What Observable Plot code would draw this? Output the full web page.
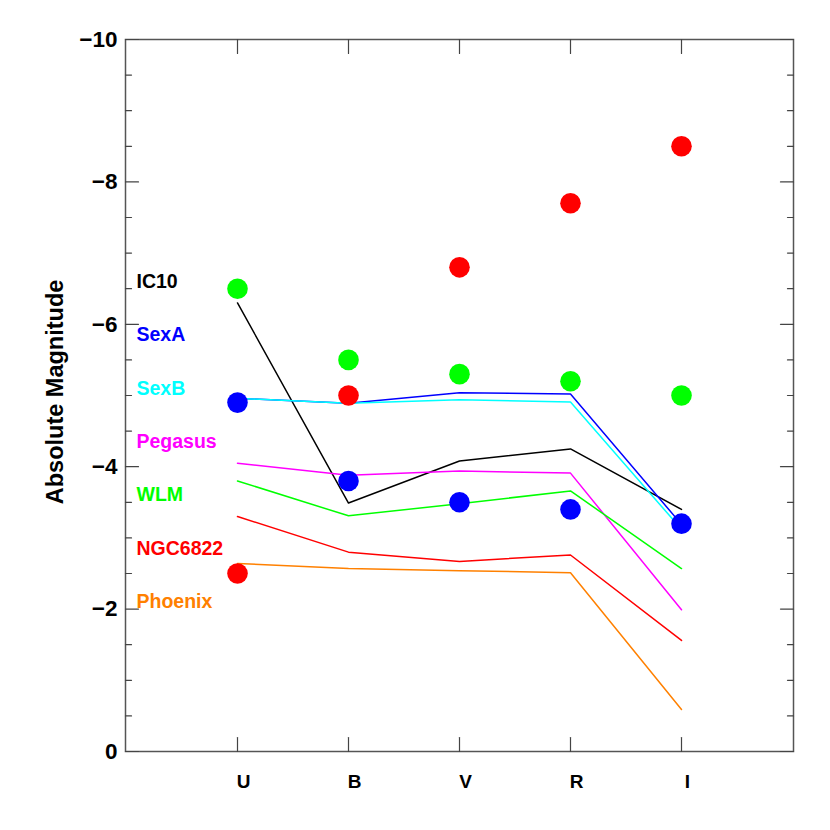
<!DOCTYPE html>
<html>
<head>
<meta charset="utf-8">
<script src="https://cdn.jsdelivr.net/npm/d3@7"></script>
<script src="https://cdn.jsdelivr.net/npm/@observablehq/plot@0.6"></script>
<style>
  html, body { margin: 0; padding: 0; background: #fff; }
</style>
</head>
<body>
<div id="chart"></div>
<script>
// ---- data ----
const filters = ["U", "B", "V", "R", "I"];
const galaxies = ["IC10", "SexA", "SexB", "Pegasus", "WLM", "NGC6822", "Phoenix"];
const galaxyColors = ["#000000", "#0000ff", "#00ffff", "#ff00ff", "#00ff00", "#ff0000", "#ff8000"];
const magIC10    = [-6.30, -3.49, -4.08, -4.25, -3.40];
const magSexA    = [-4.96, -4.89, -5.04, -5.02, -3.19];
const magSexB    = [-4.96, -4.89, -4.94, -4.91, -3.12];
const magPegasus = [-4.05, -3.88, -3.94, -3.91, -1.99];
const magWLM     = [-3.80, -3.31, -3.48, -3.66, -2.57];
const magNGC6822 = [-3.30, -2.80, -2.67, -2.76, -1.56];
const magPhoenix = [-2.64, -2.57, -2.54, -2.51, -0.59];
const dotsGreen = [-6.5, -5.5, -5.3, -5.2, -5.0];
const dotsRed   = [-2.5, -5.0, -6.8, -7.7, -8.5];
const dotsBlue  = [-4.9, -3.8, -3.5, -3.4, -3.2];
const yTickValues = [-10, -8, -6, -4, -2, 0];
const yLabel = "Absolute Magnitude";

// ---- tables built from the arrays ----
const seriesMags = [magIC10, magSexA, magSexB, magPegasus, magWLM, magNGC6822, magPhoenix];
const lineData = [];
galaxies.forEach((g, gi) => {
  filters.forEach((f, fi) => lineData.push({galaxy: g, color: galaxyColors[gi], filter: f, mag: seriesMags[gi][fi]}));
});
const dotSets = [["#00ff00", dotsGreen], ["#ff0000", dotsRed], ["#0000ff", dotsBlue]];
const dotData = [];
dotSets.forEach(([c, arr]) => filters.forEach((f, fi) => dotData.push({filter: f, mag: arr[fi], color: c})));
const labelData = galaxies.map((g, i) => ({name: g, color: galaxyColors[i], pos: -6.6 + 0.75 * i}));

const minorTicks = d3.range(-10, 0.001, 0.5).filter(v => Math.abs(v % 2) > 1e-9);
const tickShape = {draw(context, l) { context.moveTo(0, 0); context.lineTo(0, -l); }};
const tickColor = "#444";
const font = "'Liberation Sans', Arial, Helvetica, sans-serif";

function ticksY(values, anchor, len) {
  return Plot.vector(values, {y: d => d, frameAnchor: anchor, length: len, rotate: anchor === "left" ? 90 : -90,
    anchor: "start", shape: tickShape, stroke: tickColor, strokeWidth: 1.2});
}
function ticksX(anchor, len) {
  return Plot.vector(filters, {x: d => d, frameAnchor: anchor, length: len, rotate: anchor === "bottom" ? 0 : 180,
    anchor: "start", shape: tickShape, stroke: tickColor, strokeWidth: 1.2});
}

const chart = Plot.plot({
  width: 830,
  height: 830,
  marginLeft: 125,
  marginRight: 37,
  marginTop: 39,
  marginBottom: 79,
  style: {fontFamily: font, background: "#fff", color: "#000"},
  x: {type: "point", domain: filters, padding: 1, axis: null},
  y: {domain: [0, -10], axis: null},
  color: {type: "identity"},
  marks: [
    Plot.frame({stroke: "#555", strokeWidth: 1.5}),
    ticksY(yTickValues, "left", 13),
    ticksY(minorTicks, "left", 6),
    ticksY(yTickValues, "right", 13),
    ticksY(minorTicks, "right", 6),
    ticksX("bottom", 14),
    ticksX("top", 14),
    Plot.axisY({anchor: "left", ticks: yTickValues, tickSize: 0, tickPadding: 8, fontSize: 22.5, fontWeight: "bold", label: null}),
    Plot.axisX({anchor: "bottom", tickSize: 0, tickPadding: 23, fontSize: 19, fontWeight: "bold", dx: 6, label: null}),
    Plot.text([yLabel], {text: d => d, frameAnchor: "left", textAnchor: "middle", rotate: -90, dx: -70, y: -5.05, fontSize: 23.5, fontWeight: "bold", fill: "#000"}),
    Plot.line(lineData, {x: "filter", y: "mag", z: "galaxy", stroke: "color", strokeWidth: 1.5}),
    Plot.dot(dotData, {x: "filter", y: "mag", r: 10.3, fill: "color", stroke: null}),
    Plot.text(labelData, {text: "name", y: "pos", frameAnchor: "left", dx: 11, textAnchor: "start", fill: "color", fontSize: 19.5, fontWeight: "bold"})
  ]
});
document.getElementById("chart").append(chart);
</script>
</body>
</html>
